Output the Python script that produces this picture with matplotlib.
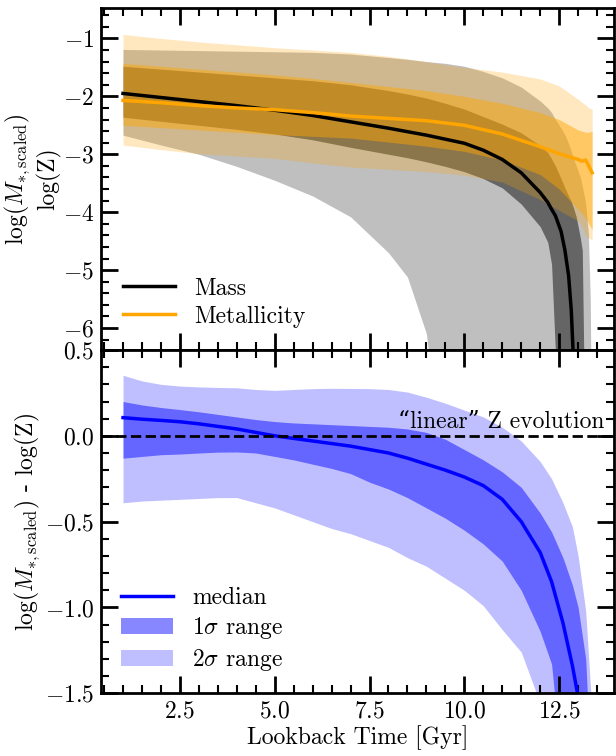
import numpy as np
import matplotlib
matplotlib.use('Agg')
import matplotlib.pyplot as plt
from matplotlib.ticker import MultipleLocator

plt.rcParams['font.family'] = ['cmr10', 'DejaVu Serif']
plt.rcParams['mathtext.fontset'] = 'cm'
plt.rcParams['axes.formatter.use_mathtext'] = True
plt.rcParams['font.size'] = 17

# --- top panel: mass ---
x_mass = [1.0, 2.0, 3.0, 4.0, 5.0, 6.0, 7.0, 8.0, 8.5, 9.0, 9.5, 10.0, 10.5, 11.0, 11.5,
          12.0, 12.2, 12.3, 12.4, 12.55, 12.65, 12.75, 12.82, 12.88, 12.95, 13.06, 13.11,
          13.15, 13.2, 13.27, 13.32, 13.37]
mass_med = [-1.95, -2.02, -2.09, -2.16, -2.24, -2.33, -2.44, -2.55, -2.61, -2.67, -2.74, -2.81,
            -2.93, -3.09, -3.32, -3.66, -3.83, -3.95, -4.06, -4.33, -4.65, -5.1, -5.7, -6.6, -9.0,
            np.nan, np.nan, np.nan, np.nan, np.nan, np.nan, np.nan]
mass_1s_hi = [-1.48, -1.53, -1.58, -1.63, -1.68, -1.73, -1.80, -1.90, -1.96, -2.03, -2.12, -2.22,
              -2.35, -2.48, -2.63, -2.85, -2.97, -3.08, -3.20, -3.42, -3.58, -3.72, -3.82, -3.93,
              -4.08, -4.45, -4.66, -6.5, -9.0, -9.0, -9.0, -9.0]
mass_1s_lo = [-2.36, -2.43, -2.50, -2.57, -2.65, -2.75, -2.88, -3.00, -3.06, -3.13, -3.21, -3.30,
              -3.42, -3.58, -3.86, -4.25, -4.52, -4.90, -6.4, -9.0, -9.0, -9.0, -9.0, -9.0,
              -9.0, -9.0, -9.0, -9.0, -9.0, -9.0, -9.0, -9.0]
mass_2s_hi = [-1.19, -1.20, -1.21, -1.22, -1.23, -1.24, -1.27, -1.33, -1.36, -1.40, -1.43, -1.48,
              -1.57, -1.68, -1.84, -2.08, -2.20, -2.28, -2.40, -2.55, -2.66, -2.82, -2.95, -3.08,
              -3.20, -3.40, -3.55, -3.68, -3.85, -4.36, -5.5, -9.0]
mass_2s_lo = [-2.67, -2.84, -3.00, -3.21, -3.45, -3.72, -4.08, -4.70, -5.12, -6.10, -9.0, -9.0,
              -9.0, -9.0, -9.0, -9.0, -9.0, -9.0, -9.0, -9.0, -9.0, -9.0, -9.0, -9.0,
              -9.0, -9.0, -9.0, -9.0, -9.0, -9.0, -9.0, -9.0]

# --- top panel: metallicity ---
x_z = [1.0, 2.0, 3.0, 4.0, 5.0, 6.0, 7.0, 8.0, 9.0, 10.0, 11.0, 12.0, 12.5, 13.0,
       13.1, 13.2, 13.28, 13.37]
z_med = [-2.07, -2.11, -2.16, -2.20, -2.23, -2.28, -2.34, -2.38, -2.42, -2.50, -2.65, -2.87,
         -2.99, -3.09, -3.12, -3.10, -3.20, -3.32]
z_1s_hi = [-1.43, -1.48, -1.53, -1.58, -1.63, -1.69, -1.76, -1.83, -1.90, -2.00, -2.12, -2.28,
           -2.40, -2.58, -2.60, -2.62, -2.62, -2.60]
z_1s_lo = [-2.50, -2.54, -2.58, -2.62, -2.66, -2.69, -2.72, -2.79, -2.86, -2.95, -3.10, -3.35,
           -3.60, -3.95, -4.02, -4.10, -4.20, -4.30]
z_2s_hi = [-0.93, -1.00, -1.06, -1.11, -1.16, -1.20, -1.24, -1.31, -1.40, -1.50, -1.58, -1.70,
           -1.82, -2.05, -2.10, -2.15, -2.20, -2.22]
z_2s_lo = [-2.84, -2.92, -2.99, -3.03, -3.07, -3.15, -3.22, -3.26, -3.30, -3.36, -3.48, -3.78,
           -3.97, -4.15, -4.25, -4.40, -4.45, -4.48]

# --- bottom panel: difference ---
x_d = [1.0, 1.5, 2.0, 2.5, 3.0, 3.5, 4.0, 4.5, 5.0, 5.5, 6.0, 6.5, 7.0, 7.5, 8.0, 8.5, 9.0,
       9.5, 10.0, 10.5, 11.0, 11.5, 12.0, 12.3, 12.6, 12.85, 13.0, 13.2, 13.35]
d_med = [0.106, 0.097, 0.090, 0.082, 0.070, 0.055, 0.040, 0.020, 0.000, -0.015, -0.030, -0.045,
         -0.060, -0.080, -0.100, -0.130, -0.165, -0.200, -0.240, -0.290, -0.370, -0.500, -0.680,
         -0.850, -1.090, -1.340, -1.520, np.nan, np.nan]
d_1s_hi = [0.200, 0.180, 0.165, 0.153, 0.140, 0.125, 0.110, 0.095, 0.083, 0.075, 0.070, 0.065,
           0.060, 0.055, 0.050, 0.040, 0.020, -0.020, -0.080, -0.140, -0.210, -0.300, -0.450,
           -0.560, -0.710, -0.870, -1.000, -1.300, -2.000]
d_1s_lo = [-0.130, -0.120, -0.110, -0.106, -0.100, -0.095, -0.094, -0.100, -0.120, -0.140, -0.165,
           -0.190, -0.220, -0.270, -0.310, -0.360, -0.420, -0.480, -0.550, -0.630, -0.730, -0.900,
           -1.140, -1.330, -2.000, -2.000, -2.000, -2.000, -2.000]
d_2s_hi = [0.353, 0.320, 0.300, 0.290, 0.285, 0.282, 0.280, 0.270, 0.265, 0.270, 0.275, 0.277,
           0.276, 0.275, 0.270, 0.255, 0.225, 0.190, 0.150, 0.110, 0.050, -0.030, -0.150, -0.250,
           -0.390, -0.530, -0.700, -1.020, -1.550]
d_2s_lo = [-0.390, -0.380, -0.375, -0.370, -0.365, -0.360, -0.360, -0.390, -0.420, -0.460, -0.500,
           -0.540, -0.570, -0.610, -0.650, -0.710, -0.760, -0.830, -0.900, -0.990, -1.130, -1.260,
           -1.560, -2.000, -2.000, -2.000, -2.000, -2.000, -2.000]

fig = plt.figure(figsize=(6.16, 7.56), dpi=100)
ax1 = fig.add_axes([0.164, 0.537, 0.833, 0.452])
ax2 = fig.add_axes([0.164, 0.083, 0.833, 0.454], sharex=ax1)

ax1.fill_between(x_mass, mass_2s_lo, mass_2s_hi, color='k', alpha=0.25, lw=0)
ax1.fill_between(x_mass, mass_1s_lo, mass_1s_hi, color='k', alpha=0.47, lw=0)
ax1.fill_between(x_z, z_2s_lo, z_2s_hi, color='orange', alpha=0.25, lw=0)
ax1.fill_between(x_z, z_1s_lo, z_1s_hi, color='orange', alpha=0.47, lw=0)
l1, = ax1.plot(x_mass, mass_med, color='k', lw=2.5, label='Mass')
l2, = ax1.plot(x_z, z_med, color='orange', lw=2.5, label='Metallicity')
ax1.legend(handles=[l1, l2], loc='lower left', frameon=False, handlelength=2.2,
           handletextpad=0.8, labelspacing=0.25, borderaxespad=0.55)
ax1.set_ylim(-6.38, -0.48)
ax1.set_ylabel('log($M_{*,\\rm scaled}$)\nlog(Z)', labelpad=1)
ax1.yaxis.set_major_locator(MultipleLocator(1))
ax1.yaxis.set_minor_locator(MultipleLocator(0.2))
plt.setp(ax1.get_xticklabels(), visible=False)

f2 = ax2.fill_between(x_d, d_2s_lo, d_2s_hi, color='blue', alpha=0.25, lw=0, label='$2\\sigma$ range')
f1 = ax2.fill_between(x_d, d_1s_lo, d_1s_hi, color='blue', alpha=0.47, lw=0, label='$1\\sigma$ range')
l3, = ax2.plot(x_d, d_med, color='blue', lw=2.5, label='median')
ax2.axhline(0, color='k', ls='--', lw=2)
ax2.text(13.68, 0.015, '\u201clinear\u201d Z evolution', ha='right', va='bottom')
ax2.legend(handles=[l3, f1, f2], loc='lower left', frameon=False, handlelength=2.2,
           handletextpad=0.8, labelspacing=0.25, borderaxespad=0.45)
ax2.set_ylim(-1.5, 0.5)
ax2.set_xlim(0.42, 13.95)
ax2.set_ylabel('log($M_{*,\\rm scaled}$) - log(Z)', labelpad=2)
ax2.set_xlabel('Lookback Time [Gyr]', labelpad=2)
ax2.yaxis.set_major_locator(MultipleLocator(0.5))
ax2.yaxis.set_minor_locator(MultipleLocator(0.1))
ax2.xaxis.set_major_locator(MultipleLocator(2.5))
ax2.xaxis.set_minor_locator(MultipleLocator(0.5))

for ax in [ax1, ax2]:
    for s in ax.spines.values():
        s.set_linewidth(2)
    ax.tick_params(which='both', direction='in', top=True, right=True)
    ax.tick_params(which='major', length=12, width=2, pad=5)
    ax.tick_params(which='minor', length=6, width=1.5)

fig.savefig('out.png', dpi=100)
